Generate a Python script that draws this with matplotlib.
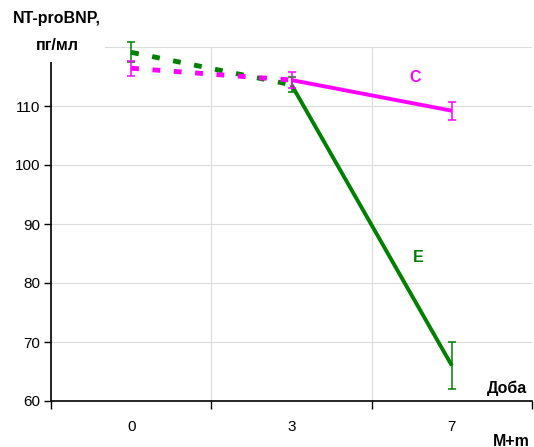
import matplotlib
matplotlib.use("Agg")
import matplotlib.pyplot as plt
from matplotlib.ticker import FixedLocator

plt.rcParams['font.family'] = ['Liberation Sans', 'DejaVu Sans']

days = ["0", "3", "7"]
c_mean = [116.4, 114.4, 109.2]
c_err = [1.3, 1.3, 1.5]
e_mean = [119.1, 113.6, 66.0]
e_err = [1.7, 1.3, 4.0]
y_ticks = [60, 70, 80, 90, 100, 110]

MAG = "#FF00FF"
GRN = "#008000"

fig = plt.figure(figsize=(5.34, 4.47), dpi=100)
ax = fig.add_axes([51/534, 1-401/447, 481/534, 354/447])
x = list(range(len(days)))

for mean, err, col, z in [(e_mean, e_err, GRN, 3), (c_mean, c_err, MAG, 5)]:
    ax.plot(x[:2], mean[:2], color=col, lw=3.5, ls=(0, (1.6, 2.8)), solid_capstyle='butt',
            dash_capstyle='butt', zorder=z)
    ax.plot(x[1:], mean[1:], color=col, lw=2.8, solid_capstyle='butt', zorder=z)
    eb = ax.errorbar(x, mean, yerr=err, fmt='none', ecolor=col, elinewidth=1.1,
                     capsize=3, capthick=1.1, zorder=z + 1)
    for art in eb.lines[1] + eb.lines[2]:
        art.set_clip_on(False)

ax.set_xlim(-0.5, 2.5)
ax.set_ylim(60, 120)
ax.set_xticks(x)
ax.set_xticklabels(days)
ax.xaxis.set_minor_locator(FixedLocator([-0.5, 0.5, 1.5, 2.5]))
ax.tick_params(axis='x', which='major', length=0, pad=13.8, labelsize=11)
ax.tick_params(axis='x', which='minor', length=6, width=1, direction='out')
ax.set_yticks(y_ticks + [120])
ax.set_yticklabels([str(v) for v in y_ticks] + [""])
ax.tick_params(axis='y', length=5, width=1, labelsize=11, pad=3)

ax.grid(axis='y', which='major', color='#DCDCDC', lw=0.8)
ax.grid(axis='x', which='minor', color='#DCDCDC', lw=0.8)
ax.set_axisbelow(True)
for s in ['top', 'right']:
    ax.spines[s].set_visible(False)
ax.spines['left'].set_linewidth(1.2)
ax.spines['bottom'].set_linewidth(1.2)

# axis title with white background covering top of axis
fig.patches.append(plt.Rectangle((0, 1-62/447), 105/534, 62/447, transform=fig.transFigure,
                                 facecolor='white', edgecolor='none', zorder=5))
fig.text(57/534, 1-19/447, "NT-proBNP,", ha='center', va='center', fontsize=11.5,
         fontweight='bold', zorder=6)
fig.text(57/534, 1-46/447, "пг/мл", ha='center', va='center', fontsize=11.5,
         fontweight='bold', zorder=6)

fig.text(415/534, 1-77/447, "C", ha='center', va='center', fontsize=11.5,
         fontweight='bold', color=MAG)
fig.text(418/534, 1-258/447, "E", ha='center', va='center', fontsize=11.5,
         fontweight='bold', color=GRN)
fig.text(507/534, 1-388/447, "Доба", ha='center', va='center', fontsize=11.5,
         fontweight='bold')
fig.text(511/534, 1-441/447, "M+m", ha='center', va='center', fontsize=11.5,
         fontweight='bold')

fig.savefig("out.png", dpi=100)
